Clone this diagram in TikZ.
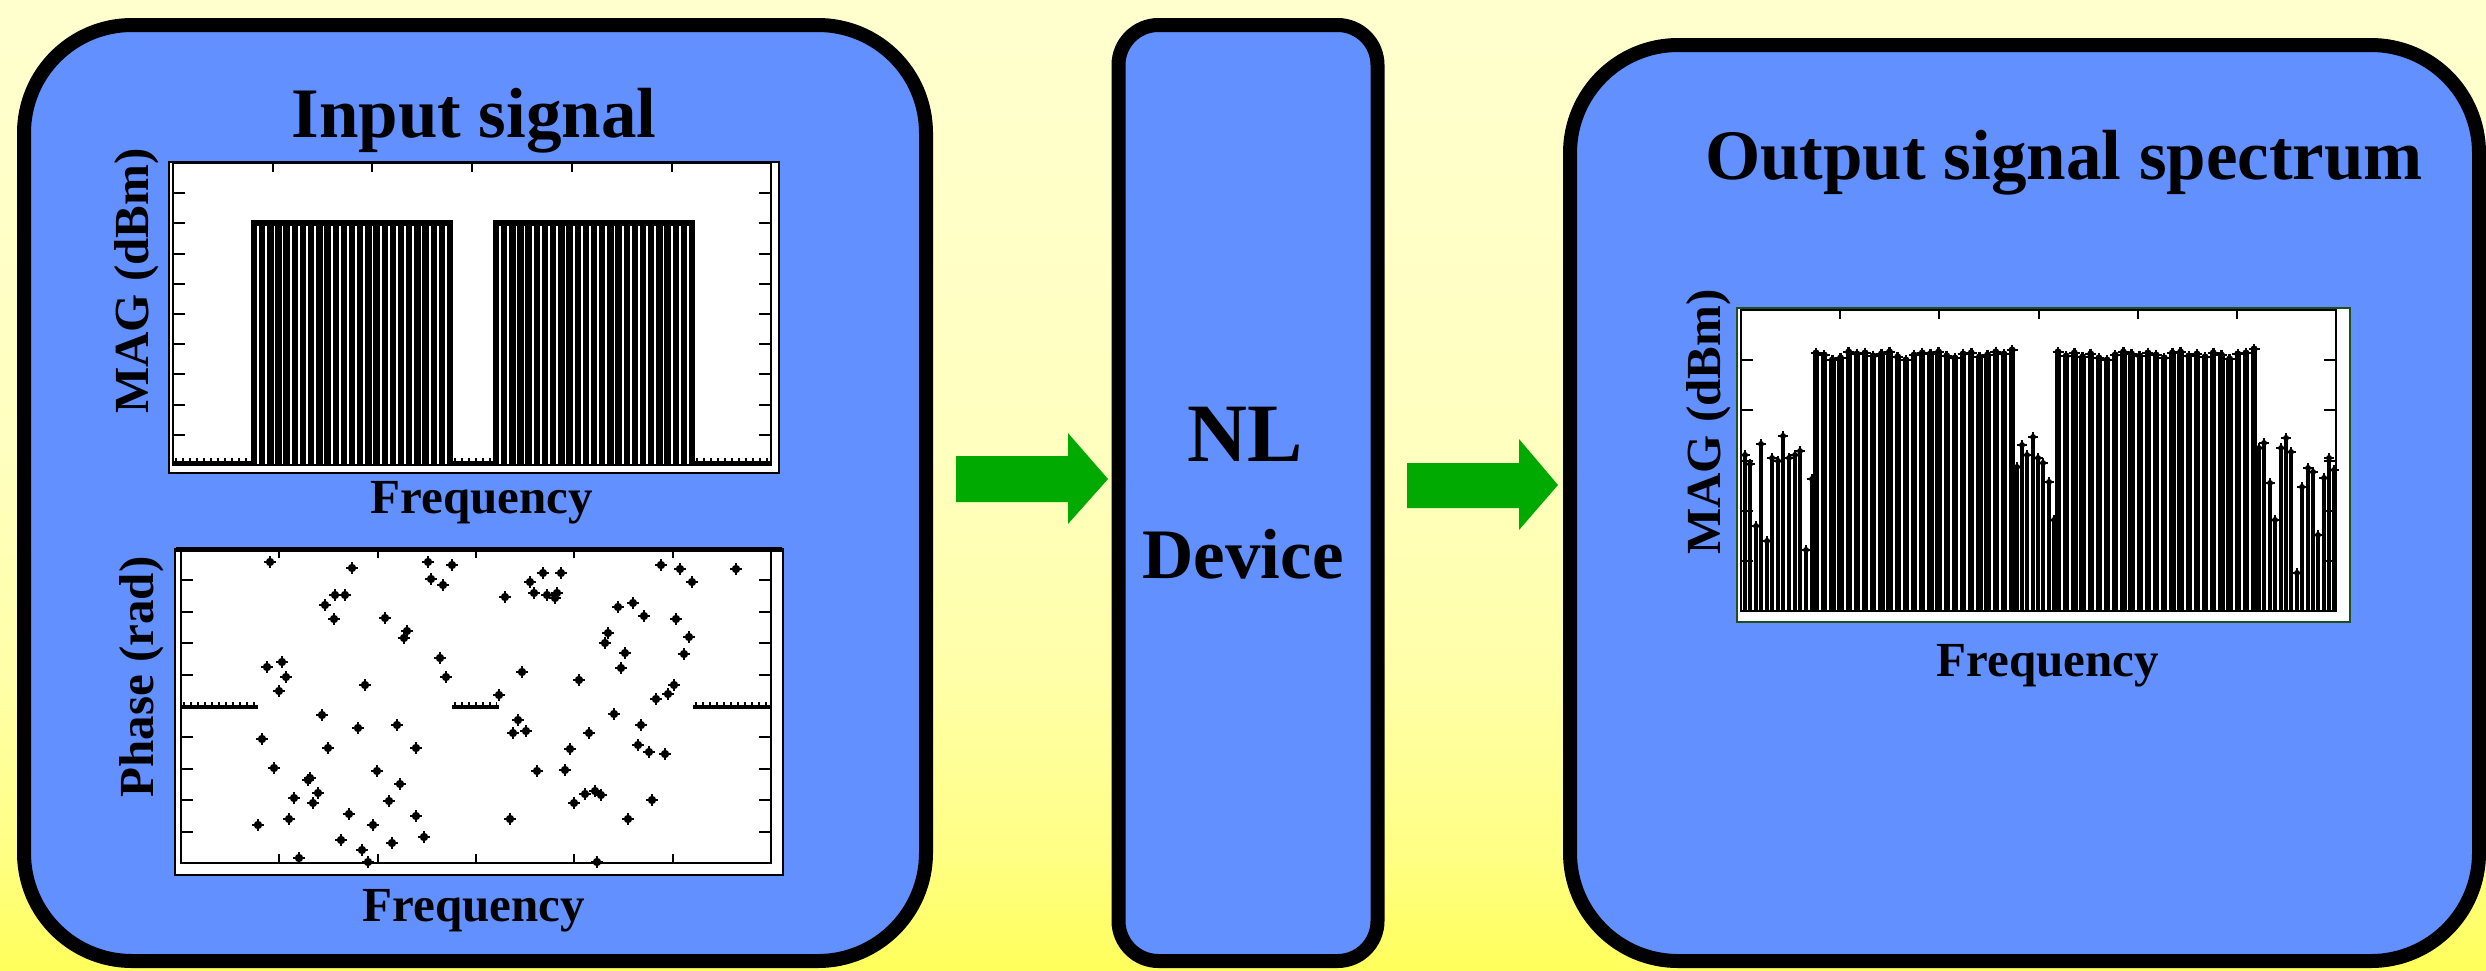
\documentclass[tikz,border=0pt]{standalone}
\usepackage{fontspec}
\setmainfont{Liberation Serif}
\definecolor{boxblue}{RGB}{98,144,255}
\definecolor{agreen}{RGB}{0,170,0}
\definecolor{pgreen}{RGB}{30,80,30}
\pgfdeclareverticalshading{bgshade}{100bp}{rgb(0bp)=(1,1,0.36); rgb(25bp)=(1,1,0.36); rgb(31bp)=(1,1,0.52); rgb(40bp)=(1,1,0.66); rgb(52bp)=(1,1,0.75); rgb(75bp)=(1,1,0.81); rgb(100bp)=(1,1,0.81)}
\begin{document}
\begin{tikzpicture}[x=1pt,y=-1pt,
  panel/.style={draw=black, line width=14pt, fill=boxblue, inner sep=0pt},
  titletxt/.style={font=\fontsize{71}{80}\selectfont\bfseries, anchor=base, inner sep=0pt},
  axlab/.style={font=\fontsize{49}{56}\selectfont\bfseries, anchor=base, inner sep=0pt},
  flow/.style={fill=agreen},
  frame/.style={line width=2.5pt},
  tick/.style={line width=2pt},
  stem/.style={line width=6.4pt},
  sstem/.style={line width=3.6pt},
  floor/.style={line width=4pt},
  flodots/.style={line width=3pt, dash pattern=on 2pt off 5pt}]
\useasboundingbox (0,0) rectangle (2486,970);
\shade[shading=bgshade] (0,0) rectangle (2486,970);

% panels
\node[panel, rounded corners=108pt, minimum width=902pt, minimum height=936pt] (inbox) at (475,493) {};
\node[panel, rounded corners=40pt, minimum width=259pt, minimum height=936pt] (nlbox) at (1248,493) {};
\node[panel, rounded corners=108pt, minimum width=909pt, minimum height=916pt] (outbox) at (2024.5,503) {};

% arrows
\coordinate (a1s) at (956,479);
\coordinate (a2s) at (1407,485);
\fill[flow] (a1s) ++(0,-23) -- ++(112,0) -- ++(0,-23) -- ++(40,46) -- ++(-40,45) -- ++(0,-22) -- ++(-112,0) -- cycle;
\fill[flow] (a2s) ++(0,-22) -- ++(112,0) -- ++(0,-24) -- ++(39,46) -- ++(-39,45) -- ++(0,-22) -- ++(-112,0) -- cycle;

% texts
\node[titletxt] (tin) at (474,137) {Input signal};
\node[titletxt] (tout) at (2064,179) {Output signal spectrum};
\node[font=\fontsize{83}{90}\selectfont\bfseries, anchor=base, inner sep=0pt] (nl) at (1245,461) {NL};
\node[titletxt] (dev) at (1243,578) {Device};
\node[axlab, rotate=90] (mag1) at (148,281) {MAG (dBm)};
\node[axlab, rotate=90] (ph) at (153,677) {Phase (rad)};
\node[axlab, rotate=90] (mag2) at (1720,422) {MAG (dBm)};
\node[axlab] (f1) at (482,513) {Frequency};
\node[axlab] (f2) at (474,921) {Frequency};
\node[axlab] (f3) at (2048,676) {Frequency};

% ---------- input magnitude plot
\fill[white] (169,162) rectangle (779,473);
\draw[line width=1.5pt] (169,162) rectangle (779,473);
\draw[frame] (173,163) rectangle (771,465);
\foreach \k in {1,...,9} {
  \draw[tick] (173,{163+30.2*\k}) -- ++(12,0);
  \draw[tick] (771,{163+30.2*\k}) -- ++(-12,0);
}
\foreach \k in {1,...,5} {\draw[tick] ({173+99.7*\k},163) -- ++(0,9);}
\foreach \i in {0,...,24} {
  \draw[stem] ({254+8.17*\i},224) -- ({254+8.17*\i},465);
  \draw[stem] ({496+8.17*\i},224) -- ({496+8.17*\i},465);
}
\draw[line width=6pt] (251,223) -- (453,223) (493,223) -- (695,223);
\draw[floor] (173,463) -- (252,463) (452,463) -- (494,463) (694,463) -- (771,463);
\draw[flodots] (175,459) -- (250,459) (454,459) -- (492,459) (696,459) -- (769,459);

% ---------- input phase plot
\fill[white] (175,549) rectangle (783,875);
\draw[line width=1.5pt] (175,549) rectangle (783,875);
\draw[frame] (181,549) rectangle (771,863);
\draw[line width=5pt] (176,549) -- (782,549);
\foreach \k in {1,...,9} {
  \draw[tick] (181,{549+31.4*\k}) -- ++(12,0);
  \draw[tick] (771,{549+31.4*\k}) -- ++(-12,0);
}
\foreach \k in {1,...,5} {
  \draw[tick] ({181+98.3*\k},549) -- ++(0,9);
  \draw[tick] ({181+98.3*\k},863) -- ++(0,-9);
}
\draw[floor] (181,707) -- (258,707) (452,707) -- (499,707) (693,707) -- (771,707);
\draw[flodots] (183,703) -- (256,703) (454,703) -- (497,703) (695,703) -- (769,703);
\foreach \x/\y in {270/562,352/568,428/562,452/565,431/579,443/585,325/605,335/595,345/595,
  334/619,385/618,407/631,404/638,267/667,282/662,286/677,279/691,365/685,440/658,446/677,
  505/597,530/582,543/573,561/573,534/593,547/595,557/593,555/598,522/672,499/695,
  661/565,680/569,692/582,736/569,618/607,633/603,644/616,676/619,608/633,605/643,
  625/653,621/668,689/637,684/654,579/680,674/685,668/694,656/699,
  322/715,262/739,274/768,308/780,310/778,318/793,294/798,313/803,289/819,258/825,
  358/728,328/748,397/725,416/748,377/771,400/784,389/801,349/814,373/825,416/816,
  341/840,362/850,392/843,424/837,299/858,368/862,518/720,513/733,526/731,510/819,
  537/771,565/770,570/749,589/733,614/714,641/725,638/745,649/752,665/754,574/803,
  585/794,595/791,601/795,652/800,628/819,597/862} {
  \fill (\x,\y) circle (4.2);
  \draw[line width=2.8pt] (\x,\y) +(-6,0) -- +(6,0) +(0,-6) -- +(0,6);
}

% ---------- output magnitude plot
\fill[white] (1737,308) rectangle (2350,622);
\draw[pgreen, line width=2pt] (1737,308) rectangle (2350,622);
\draw[frame] (1741,310) rectangle (2336,611);
\foreach \k in {1,...,5} {
  \draw[tick] (1741,{310+50.2*\k}) -- ++(12,0);
  \draw[tick] (2336,{310+50.2*\k}) -- ++(-12,0);
  \draw[tick] ({1741+99.2*\k},310) -- ++(0,9);
}
\foreach \i/\t in {0/353,1/355,2/360,3/358,4/352,5/354,6/353,7/356,8/354,9/352,10/357,11/360,12/355,
  13/353,14/354,15/352,16/356,17/358,18/354,19/353,20/357,21/355,22/352,23/354,24/350} {
  \draw[stem] ({1816+8.17*\i},\t) -- ({1816+8.17*\i},611);
  \fill ({1816+8.17*\i},\t) circle (3.6);
  \draw[line width=2.5pt] ({1816+8.17*\i},\t) +(-5.5,0) -- +(5.5,0) +(0,-5.5) -- +(0,5.5);
}
\foreach \i/\t in {0/352,1/356,2/353,3/357,4/354,5/358,6/360,7/355,8/352,9/354,10/356,11/353,12/355,
  13/358,14/353,15/352,16/356,17/354,18/357,19/353,20/355,21/359,22/354,23/353,24/349} {
  \draw[stem] ({2058+8.17*\i},\t) -- ({2058+8.17*\i},611);
  \fill ({2058+8.17*\i},\t) circle (3.6);
  \draw[line width=2.5pt] ({2058+8.17*\i},\t) +(-5.5,0) -- +(5.5,0) +(0,-5.5) -- +(0,5.5);
}
\foreach \x/\t in {1745/455,1750/464,1756/526,1761/444,1767/541,1772/458,1778/461,1783/436,
  1789/458,1795/455,1800/451,1806/550,1812/479,
  2017/467,2022/445,2027/455,2033/437,2038/458,2043/463,2049/482,2054/520,
  2259/448,2264/443,2270/483,2275/520,2281/448,2286/438,2291/452,2297/573,
  2302/487,2308/468,2313/472,2318/535,2324/478,2329/458,2334/470} {
  \draw[sstem] (\x,\t) -- (\x,611);
  \fill (\x,\t) circle (3);
  \draw[line width=2.2pt] (\x,\t) +(-5,0) -- +(5,0) +(0,-5) -- +(0,5);
}
\end{tikzpicture}
\end{document}
